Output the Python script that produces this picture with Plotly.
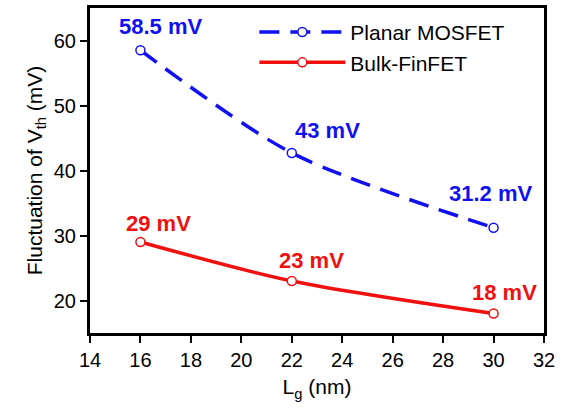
import plotly.graph_objects as go

lg = [16, 22, 30]
planar = [58.5, 42.7, 31.2]
bulk = [29.0, 23.0, 18.0]
planar_labels = ["58.5 mV", "43 mV", "31.2 mV"]
bulk_labels = ["29 mV", "23 mV", "18 mV"]
x_ticks = list(range(14, 33, 2))
y_ticks = [20, 30, 40, 50, 60]

BLUE = "#1010f0"
RED = "#f01010"
FONT = "Liberation Sans, Arial, sans-serif"

fig = go.Figure()
fig.add_trace(go.Scatter(
    x=lg, y=planar, name="Planar MOSFET", mode="lines+markers",
    line=dict(color=BLUE, width=3.5, dash="20px,11px", shape="spline", smoothing=0.8),
    marker=dict(symbol="circle", size=9, color="white", line=dict(color=BLUE, width=1.5)),
))
fig.add_trace(go.Scatter(
    x=lg, y=bulk, name="Bulk-FinFET", mode="lines+markers",
    line=dict(color=RED, width=3.5, shape="spline", smoothing=0.8),
    marker=dict(symbol="circle", size=9, color="white", line=dict(color=RED, width=1.5)),
))

pl_shift = [(20, 24), (36, 22), (-3, 34)]
bk_shift = [(18, 19), (20, 21), (11, 21)]
for x, y, t, (dx, dy) in zip(lg, planar, planar_labels, pl_shift):
    fig.add_annotation(x=x, y=y, text=t, showarrow=False, xshift=dx, yshift=dy,
                       font=dict(color=BLUE, size=22, family=FONT, weight="bold"))
for x, y, t, (dx, dy) in zip(lg, bulk, bulk_labels, bk_shift):
    fig.add_annotation(x=x, y=y, text=t, showarrow=False, xshift=dx, yshift=dy,
                       font=dict(color=RED, size=22, family=FONT, weight="bold"))

axis_common = dict(
    showline=True, linecolor="black", linewidth=3, mirror=True,
    ticks="outside", ticklen=7, tickwidth=2, tickcolor="black",
    showgrid=False, zeroline=False,
    tickfont=dict(size=20, family=FONT, color="black"),
)
fig.update_xaxes(range=[14, 32], tickvals=x_ticks,
                 title=dict(text="L<sub>g</sub> (nm)", font=dict(size=21, family=FONT, color="black"), standoff=10),
                 **axis_common)
fig.update_yaxes(range=[15, 65], tickvals=y_ticks,
                 title=dict(text="Fluctuation of V<sub>th</sub> (mV)", font=dict(size=21, family=FONT, color="black"), standoff=6),
                 **axis_common)

fig.update_layout(
    width=565, height=411,
    margin=dict(l=90, r=21, t=5, b=78),
    plot_bgcolor="white", paper_bgcolor="white",
    legend=dict(x=0.362, y=0.988, xanchor="left", yanchor="top",
                bgcolor="rgba(0,0,0,0)", font=dict(size=21, family=FONT, color="black"),
                itemwidth=86, tracegroupgap=0),
)
fig.write_html("out.html")
